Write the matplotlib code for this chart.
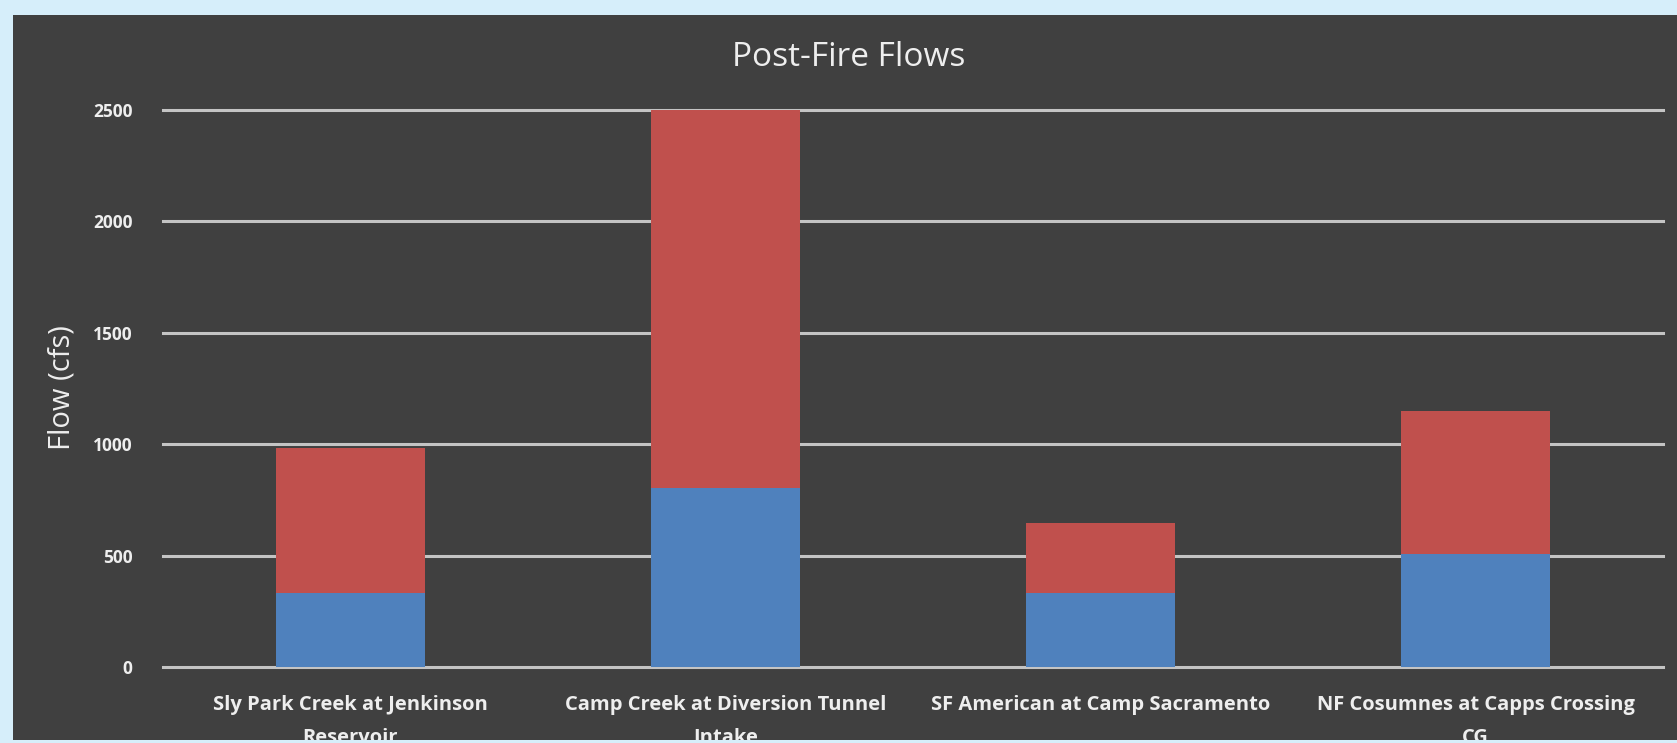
import matplotlib.pyplot as plt
from matplotlib.patches import Rectangle

# data
sites = ["Sly Park Creek at Jenkinson\nReservoir",
         "Camp Creek at Diversion Tunnel\nIntake",
         "SF American at Camp Sacramento",
         "NF Cosumnes at Capps Crossing\nCG"]
base_flow = [330, 805, 330, 505]      # blue part
total_flow = [985, 2500, 645, 1148]   # top of red part
y_ticks = [0, 500, 1000, 1500, 2000, 2500]

extra_flow = [t - b for t, b in zip(total_flow, base_flow)]

bg_light = "#d6eefa"
bg_dark = "#404040"
txt = "#eeeeee"
font = ["Open Sans", "DejaVu Sans"]

W, H = 1677, 743
fig = plt.figure(figsize=(W / 100, H / 100), dpi=100, facecolor=bg_light)

# dark chart panel
fig.add_artist(Rectangle((13 / W, 3 / H), 1 - 13 / W, 1 - 18 / H,
                         transform=fig.transFigure, facecolor=bg_dark,
                         edgecolor="none", zorder=-1))

ax = fig.add_axes([163 / W, (H - 667) / H, 1500 / W, 557 / H])
ax.set_facecolor(bg_dark)
x = range(len(sites))
ax.bar(x, base_flow, width=0.395, color="#4f81bd", zorder=2)
ax.bar(x, extra_flow, width=0.395, bottom=base_flow, color="#c0504d", zorder=2)

ax.set_xlim(-0.5, len(sites) - 0.5)
ax.set_ylim(0, 2500)
ax.set_yticks(y_ticks)
ax.set_xticks(list(x))
ax.set_xticklabels(sites, family=font, fontsize=14.5, fontweight="bold",
                   color=txt, linespacing=1.9)
ax.set_yticklabels([str(v) for v in y_ticks], family=font, fontsize=12.5,
                   fontweight="bold", color=txt)
ax.tick_params(axis="both", length=0)
ax.tick_params(axis="x", pad=20)
ax.tick_params(axis="y", pad=22)
ax.grid(axis="y", color="#c4c4c4", linewidth=2.2, zorder=1)
ax.set_axisbelow(True)
for s in ax.spines.values():
    s.set_visible(False)
for gl in ax.get_ygridlines():
    gl.set_clip_on(False)

fig.text(849 / W, 1 - 58 / H, "Post-Fire Flows", ha="center", va="center",
         family=font, fontsize=24, color=txt)
fig.text(62 / W, 1 - 388 / H, "Flow (cfs)", ha="center", va="center",
         rotation=90, family=font, fontsize=21, color=txt)

# light border cuts the wrapped labels at the bottom
fig.add_artist(Rectangle((0, 0), 1, 3 / H, transform=fig.transFigure,
                         facecolor=bg_light, edgecolor="none", zorder=10))

fig.savefig("out.png", dpi=100, facecolor=bg_light)
